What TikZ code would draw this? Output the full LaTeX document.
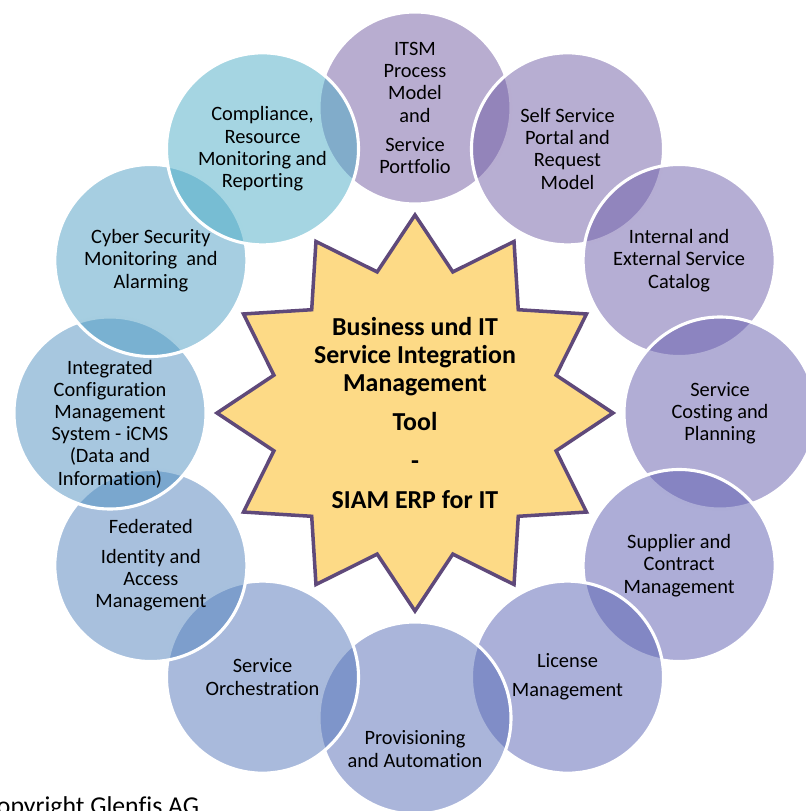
\documentclass[tikz,border=0pt]{standalone}
\usepackage{fontspec}
\setmainfont{Carlito}[Ligatures={NoCommon}]
\usepackage{tikz}
\usetikzlibrary{shapes.geometric}
\definecolor{itsm}{RGB}{114,91,161}
\definecolor{selfsvc}{RGB}{112,93,165}
\definecolor{catalog}{RGB}{108,93,169}
\definecolor{costing}{RGB}{100,92,172}
\definecolor{supplier}{RGB}{91,91,175}
\definecolor{license}{RGB}{88,98,179}
\definecolor{provis}{RGB}{86,108,182}
\definecolor{orchestr}{RGB}{84,118,185}
\definecolor{identity}{RGB}{81,130,188}
\definecolor{icms}{RGB}{79,143,192}
\definecolor{cyber}{RGB}{77,157,195}
\definecolor{compliance}{RGB}{75,172,198}
\definecolor{hubfill}{RGB}{253,218,134}
\definecolor{hubline}{RGB}{95,73,122}
\tikzset{
    ring/.style={circle,draw=white,line width=2.2pt,fill opacity=0.5,text opacity=1,minimum size=4.8cm,inner sep=0pt,align=center,font=\fontsize{14.5}{15.8}\selectfont},
    ringtext/.style={inner sep=0pt,align=center,font=\fontsize{14.5}{15.8}\selectfont},
    hub/.style={star,star points=12,star point ratio=1.356,minimum size=9.9cm,inner sep=0pt,fill=hubfill,draw=hubline,line width=2.5pt,line join=miter,align=center,font=\fontsize{18.4}{19.9}\selectfont\bfseries},
    note/.style={inner sep=0pt,font=\fontsize{18.3}{21}\selectfont},
    }

\begin{document}
\begin{tikzpicture}[x=0.025cm,y=0.025cm]
		\useasboundingbox (-415,-398) rectangle (391,413);
		\clip (-415,-398) rectangle (391,413);

		\node[hub] (hub) at (0,0) {Business und IT\\Service Integration\\Management\\[0.275cm]Tool\\[0.275cm]-\\[0.275cm]SIAM ERP for IT};

		\node[ring,fill=itsm] (itsm) at (90:305) {ITSM\\Process\\Model\\and\\[0.175cm]Service\\Portfolio};
		\node[ring,fill=selfsvc] (selfsvc) at (60:305) {Self Service\\Portal and\\Request\\Model};
		\node[ring,fill=catalog] (catalog) at (30:305) {Internal and\\External Service\\Catalog};
		\node[ring,fill=costing] (costing) at (0:305) {Service\\Costing and\\Planning};
		\node[ring,fill=supplier] (supplier) at (-30:305) {Supplier and\\Contract\\Management};
		\node[ring,fill=license] (license) at (-60:305) {License\\[0.17cm]Management};
		\node[ring,fill=provis] (provis) at (-90:305) {};
		\node[ringtext] (provistext) at ([yshift=-0.775cm]provis.center) {Provisioning\\and Automation};
		\node[ring,fill=orchestr] (orchestr) at (-120:305) {Service\\Orchestration};
		\node[ring,fill=identity] (identity) at (-150:305) {Federated\\[0.19cm]Identity and\\Access\\Management};
		\node[ring,fill=icms] (icms) at (180:305) {};
		\node[ringtext] (icmstext) at ([yshift=-0.275cm]icms.center) {Integrated\\Configuration\\Management\\System - iCMS\\(Data and\\Information)};
		\node[ring,fill=cyber] (cyber) at (150:305) {Cyber Security\\Monitoring~ and\\Alarming};
		\node[ring,fill=compliance] (compliance) at (120:305) {Compliance,\\Resource\\Monitoring and\\Reporting};

		\node[note,anchor=base west] (copyright) at (-432,-401) {Copyright Glenfis AG};
    \end{tikzpicture}
\end{document}
